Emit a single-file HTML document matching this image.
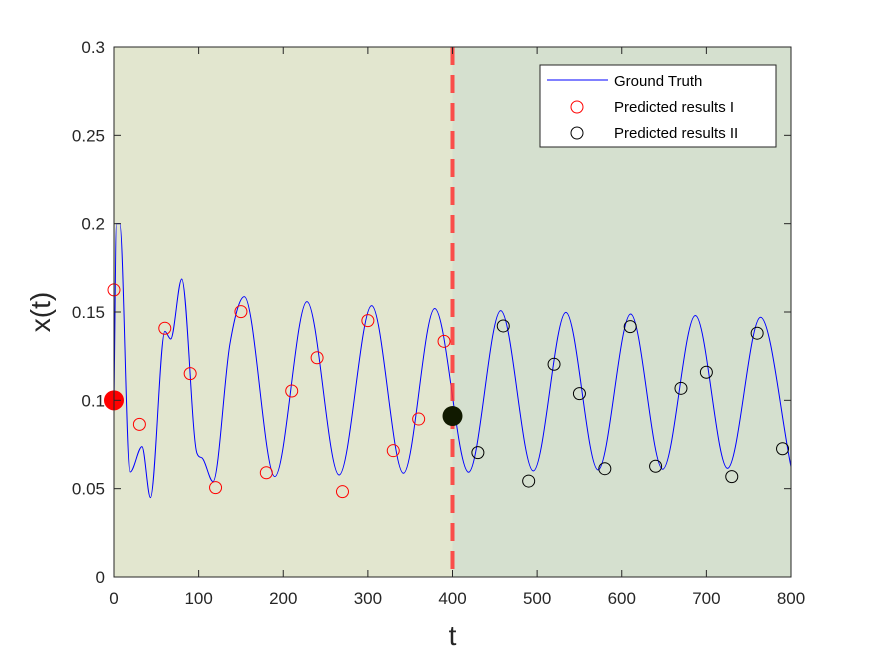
<!DOCTYPE html>
<html><head><meta charset="utf-8"><style>
body{margin:0;background:#fff;}
svg{display:block;font-family:"Liberation Sans",Arial,sans-serif;}
</style></head><body>
<svg id="chart" width="875" height="656" xmlns="http://www.w3.org/2000/svg"></svg>
<script>
const gtT=[0,3,7,19,33,43,60,67,80,98,104,117,137,154,190,228,266,304.5,342,379,419,457,495.5,534,572,610.5,648.4,687,725,764,800];
const gtX=[0.1,0.2,0.2,0.0594,0.0738,0.0449,0.139,0.1347,0.1687,0.070,0.0674,0.054,0.132,0.1587,0.0568,0.1559,0.0577,0.1536,0.0587,0.152,0.0593,0.1508,0.060,0.1498,0.0606,0.1489,0.061,0.148,0.0615,0.147,0.0624];
const p1T=[0,30,60,90,120,150,180,210,240,270,300,330,360,390];
const p1X=[0.1625,0.0864,0.1408,0.1151,0.0506,0.1502,0.059,0.1053,0.1241,0.0483,0.1451,0.0715,0.0894,0.1334];
const p2T=[430,460,490,520,550,580,610,640,670,700,730,760,790];
const p2X=[0.0704,0.1421,0.0543,0.1204,0.1038,0.0613,0.1417,0.0627,0.1068,0.1159,0.0568,0.138,0.0726];
const start1=[0,0.1];
const start2=[400,0.0911];
const xTicks=[0,100,200,300,400,500,600,700,800];
const yTicks=[0,0.05,0.1,0.15,0.2,0.25,0.3];
const yTickLabels=["0","0.05","0.1","0.15","0.2","0.25","0.3"];
const splitT=400;

const L=114,R=791,T=47,B=577;
const sx=t=>L+(t/800)*(R-L);
const sy=v=>B-(v/0.3)*(B-T);
const NS="http://www.w3.org/2000/svg";
const svg=document.getElementById('chart');
function mk(tag,attrs,parent){const e=document.createElementNS(NS,tag);for(const k in attrs)e.setAttribute(k,attrs[k]);(parent||svg).appendChild(e);return e;}

let r=mk('rect',{x:L,y:T,width:sx(splitT)-L,height:B-T,fill:'#e2e6cf'});


r=mk('rect',{x:sx(splitT),y:T,width:R-sx(splitT),height:B-T,fill:'#d5e0cf'});



// monotone cubic path
function monoPath(xs,ys){
  const n=xs.length,d=[],m=[];
  for(let i=0;i<n-1;i++)d.push((ys[i+1]-ys[i])/(xs[i+1]-xs[i]));
  m[0]=d[0];m[n-1]=d[n-2];
  for(let i=1;i<n-1;i++){m[i]=(d[i-1]*d[i]<=0)?0:(d[i-1]+d[i])/2;}
  for(let i=0;i<n-1;i++){if(d[i]===0){m[i]=0;m[i+1]=0;continue;}const a=m[i]/d[i],b=m[i+1]/d[i],s=a*a+b*b;if(s>9){const t=3/Math.sqrt(s);m[i]=t*a*d[i];m[i+1]=t*b*d[i];}}
  let p='M'+xs[0]+','+ys[0];
  for(let i=0;i<n-1;i++){const h=(xs[i+1]-xs[i])/3;p+=' C'+(xs[i]+h)+','+(ys[i]+m[i]*h)+' '+(xs[i+1]-h)+','+(ys[i+1]-m[i+1]*h)+' '+xs[i+1]+','+ys[i+1];}
  return p;
}
const px=gtT.map(sx),py=gtX.map(sy);
let gl=mk('path',{d:monoPath(px,py),fill:'none',stroke:'#0000ff','stroke-width':1});



p1T.forEach((t,i)=>{const c=mk('circle',{cx:sx(t),cy:sy(p1X[i]),r:6,fill:'none',stroke:'#ff0000','stroke-width':1});

});
p2T.forEach((t,i)=>{const c=mk('circle',{cx:sx(t),cy:sy(p2X[i]),r:6,fill:'none',stroke:'#000','stroke-width':1});

});

let dl=mk('line',{x1:sx(splitT),x2:sx(splitT),y1:T,y2:B,stroke:'#ff3333','stroke-opacity':0.85,'stroke-width':4,'stroke-dasharray':'18,10'});


let s1=mk('circle',{cx:sx(start1[0]),cy:sy(start1[1]),r:10,fill:'#ff0000'});


let s2=mk('circle',{cx:sx(start2[0]),cy:sy(start2[1]),r:10,fill:'#111a00'});



// axes
let ax=mk('path',{d:`M${L},${T}H${R}V${B}H${L}Z`,fill:'none',stroke:'#262626','stroke-width':1});


xTicks.forEach(t=>{const x=sx(t);
 mk('line',{x1:x,x2:x,y1:B,y2:B-7,stroke:'#262626'});mk('line',{x1:x,x2:x,y1:T,y2:T+7,stroke:'#262626'});
 const tx=mk('text',{x:x,y:B+27,'text-anchor':'middle','font-size':17,fill:'#262626'});tx.textContent=t;
 
 });
yTicks.forEach((v,i)=>{const y=sy(v);
 mk('line',{x1:L,x2:L+7,y1:y,y2:y,stroke:'#262626'});mk('line',{x1:R,x2:R-7,y1:y,y2:y,stroke:'#262626'});
 const tx=mk('text',{x:L-9,y:y+6,'text-anchor':'end','font-size':17,fill:'#262626'});tx.textContent=yTickLabels[i];
 
 });
let xt=mk('text',{x:(L+R)/2,y:645,'text-anchor':'middle','font-size':28,fill:'#262626'});xt.textContent='t';


let yt=mk('text',{x:0,y:0,'text-anchor':'middle','font-size':28,fill:'#262626',transform:`translate(50,${(T+B)/2}) rotate(-90)`});yt.textContent='x(t)';



// legend
const lg=mk('g',{});


mk('rect',{x:540,y:65,width:236,height:82,fill:'#fff',stroke:'#262626','stroke-width':1},lg);
let e=mk('line',{x1:547,x2:608,y1:80,y2:80,stroke:'#0000ff'},lg);


e=mk('circle',{cx:577,cy:107,r:6,fill:'none',stroke:'#ff0000'},lg);


e=mk('circle',{cx:577,cy:133,r:6,fill:'none',stroke:'#000'},lg);


[['Ground Truth',86],['Predicted results I',112],['Predicted results II',138]].forEach(([s,y])=>{
 const t=mk('text',{x:614,y:y,'font-size':15,fill:'#000'},lg);t.textContent=s;
 
 });
</script>
</body></html>
